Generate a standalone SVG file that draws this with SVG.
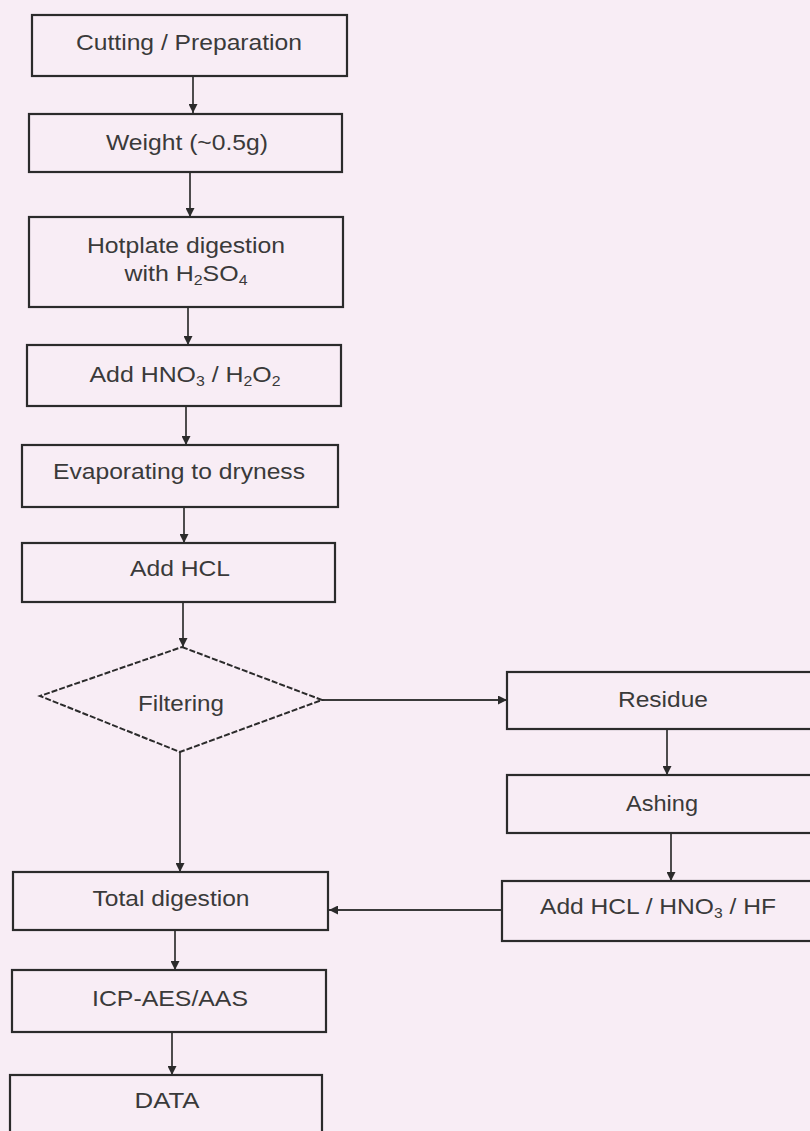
<svg xmlns="http://www.w3.org/2000/svg" width="810" height="1131" viewBox="0 0 810 1131">
<style>
.box{fill:none;stroke:#2b2b2b;stroke-width:2.2}
.dia{fill:none;stroke:#2b2b2b;stroke-width:2;stroke-dasharray:6 2}
.con{fill:none;stroke:#3a3a3a;stroke-width:1.8}
text{font-family:"Liberation Sans",Arial,sans-serif;font-size:22px;fill:#3a3a3a;text-anchor:middle}
.sub{font-size:14px}
</style>
<defs>
<marker id="ah" viewBox="0 0 10 10" refX="10" refY="5" markerWidth="5" markerHeight="5" orient="auto" markerUnits="strokeWidth">
<path d="M0,0 L10,5 L0,10 z" fill="#2b2b2b"/>
</marker>
</defs>
<rect width="810" height="1131" fill="#f8edf5"/>
<g id="connectors">
<line class="con" x1="193" y1="76" x2="193" y2="113" marker-end="url(#ah)"/>
<line class="con" x1="190" y1="172" x2="190" y2="217" marker-end="url(#ah)"/>
<line class="con" x1="188" y1="307" x2="188" y2="345" marker-end="url(#ah)"/>
<line class="con" x1="186" y1="406" x2="186" y2="445" marker-end="url(#ah)"/>
<line class="con" x1="184" y1="507" x2="184" y2="543" marker-end="url(#ah)"/>
<line class="con" x1="183" y1="602" x2="183" y2="647" marker-end="url(#ah)"/>
<line class="con" x1="322" y1="700" x2="507" y2="700" marker-end="url(#ah)"/>
<line class="con" x1="180" y1="752" x2="180" y2="872" marker-end="url(#ah)"/>
<line class="con" x1="667" y1="729" x2="667" y2="775" marker-end="url(#ah)"/>
<line class="con" x1="671" y1="833" x2="671" y2="881" marker-end="url(#ah)"/>
<line class="con" x1="502" y1="910" x2="329" y2="910" marker-end="url(#ah)"/>
<line class="con" x1="175" y1="930" x2="175" y2="970" marker-end="url(#ah)"/>
<line class="con" x1="172" y1="1032" x2="172" y2="1075" marker-end="url(#ah)"/>
</g>
<g id="n1"><rect class="box" x="32" y="15" width="315" height="61"/><text x="189" y="50" textLength="226" lengthAdjust="spacingAndGlyphs">Cutting / Preparation</text></g>
<g id="n2"><rect class="box" x="29" y="114" width="313" height="58"/><text x="187" y="150" textLength="162" lengthAdjust="spacingAndGlyphs">Weight (~0.5g)</text></g>
<g id="n3"><rect class="box" x="29" y="217" width="314" height="90"/><text x="186" y="253" textLength="198" lengthAdjust="spacingAndGlyphs">Hotplate digestion</text><text x="186" y="281" textLength="123" lengthAdjust="spacingAndGlyphs">with H<tspan class="sub" dy="4">2</tspan><tspan dy="-4">SO</tspan><tspan class="sub" dy="4">4</tspan></text></g>
<g id="n4"><rect class="box" x="27" y="345" width="314" height="61"/><text x="185" y="382" textLength="191" lengthAdjust="spacingAndGlyphs">Add HNO<tspan class="sub" dy="4">3</tspan><tspan dy="-4"> / H</tspan><tspan class="sub" dy="4">2</tspan><tspan dy="-4">O</tspan><tspan class="sub" dy="4">2</tspan></text></g>
<g id="n5"><rect class="box" x="22" y="445" width="316" height="62"/><text x="179" y="479" textLength="252" lengthAdjust="spacingAndGlyphs">Evaporating to dryness</text></g>
<g id="n6"><rect class="box" x="22" y="543" width="313" height="59"/><text x="180" y="576" textLength="100" lengthAdjust="spacingAndGlyphs">Add HCL</text></g>
<g id="n7"><polygon class="dia" points="182,647 322,700 180,752 40,696"/><text x="181" y="711" textLength="86" lengthAdjust="spacingAndGlyphs">Filtering</text></g>
<g id="n8"><rect class="box" x="507" y="672" width="310" height="57"/><text x="663" y="707" textLength="90" lengthAdjust="spacingAndGlyphs">Residue</text></g>
<g id="n9"><rect class="box" x="507" y="775" width="310" height="58"/><text x="662" y="811" textLength="72" lengthAdjust="spacingAndGlyphs">Ashing</text></g>
<g id="n10"><rect class="box" x="502" y="881" width="315" height="60"/><text x="658" y="914" textLength="236" lengthAdjust="spacingAndGlyphs">Add HCL / HNO<tspan class="sub" dy="4">3</tspan><tspan dy="-4"> / HF</tspan></text></g>
<g id="n11"><rect class="box" x="13" y="872" width="315" height="58"/><text x="171" y="906" textLength="157" lengthAdjust="spacingAndGlyphs">Total digestion</text></g>
<g id="n12"><rect class="box" x="12" y="970" width="314" height="62"/><text x="170" y="1006" textLength="156" lengthAdjust="spacingAndGlyphs">ICP-AES/AAS</text></g>
<g id="n13"><rect class="box" x="10" y="1075" width="312" height="62"/><text x="167" y="1108" textLength="65" lengthAdjust="spacingAndGlyphs">DATA</text></g>
</svg>
